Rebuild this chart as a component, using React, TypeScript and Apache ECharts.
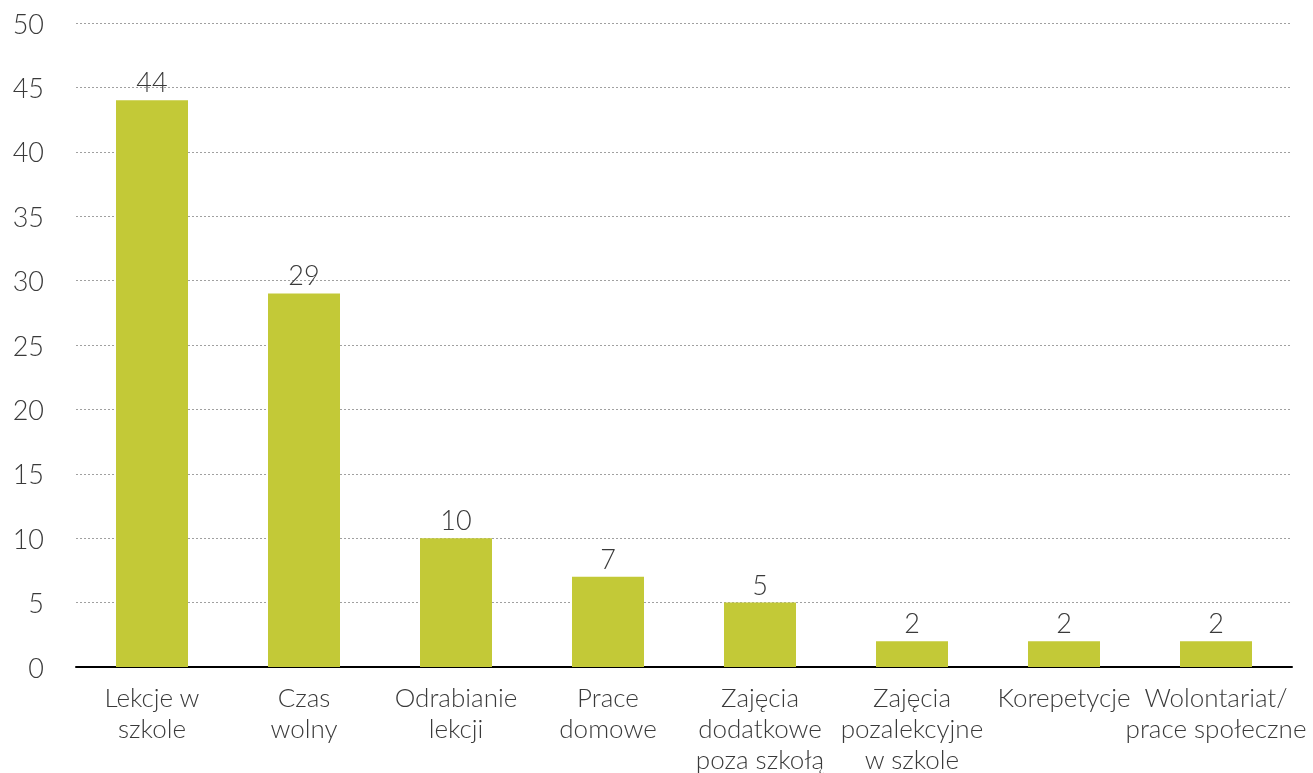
import React, { useEffect, useRef } from "react";
import * as echarts from "echarts";

const categories = [
  "Lekcje w\nszkole",
  "Czas\nwolny",
  "Odrabianie\nlekcji",
  "Prace\ndomowe",
  "Zajęcia\ndodatkowe\npoza szkołą",
  "Zajęcia\npozalekcyjne\nw szkole",
  "Korepetycje",
  "Wolontariat/\nprace społeczne",
];
const values = [44, 29, 10, 7, 5, 2, 2, 2];

const FONT = "Lato";
const TEXT = "#3a3a3a";

export default function App() {
  const ref = useRef<HTMLDivElement>(null);
  useEffect(() => {
    if (!ref.current) return;
    const chart = echarts.init(ref.current, undefined, { renderer: "svg" });
    chart.setOption({
      animation: false,
      grid: {
        left: 76,
        right: 21,
        top: 23,
        bottom: 106,
        containLabel: false,
        outerBoundsMode: "none",
      },
      xAxis: {
        type: "category",
        data: categories,
        axisLine: { show: true, lineStyle: { color: "#000", width: 2 } },
        axisTick: { show: false },
        axisLabel: {
          color: TEXT,
          fontFamily: FONT,
          fontWeight: 300,
          fontSize: 26,
          lineHeight: 31,
          margin: 14,
          interval: 0,
        },
      },
      yAxis: {
        type: "value",
        min: 0,
        max: 50,
        interval: 5,
        axisLine: { show: false },
        axisTick: { show: false },
        axisLabel: {
          color: TEXT,
          fontFamily: FONT,
          fontWeight: 300,
          fontSize: 27,
          margin: 32,
        },
        splitLine: {
          show: true,
          lineStyle: { color: "#a0a0a0", type: [2, 2], width: 1 },
        },
      },
      series: [
        {
          type: "bar",
          data: values,
          barWidth: 72,
          itemStyle: { color: "#C3C937" },
          label: {
            show: true,
            position: "top",
            distance: 5,
            color: TEXT,
            fontFamily: FONT,
            fontWeight: 300,
            fontSize: 27,
          },
        },
      ],
    });
    return () => chart.dispose();
  }, []);
  return (
    <div
      ref={ref}
      style={{ position: "fixed", left: 0, top: 0, width: 1313, height: 773 }}
    />
  );
}
